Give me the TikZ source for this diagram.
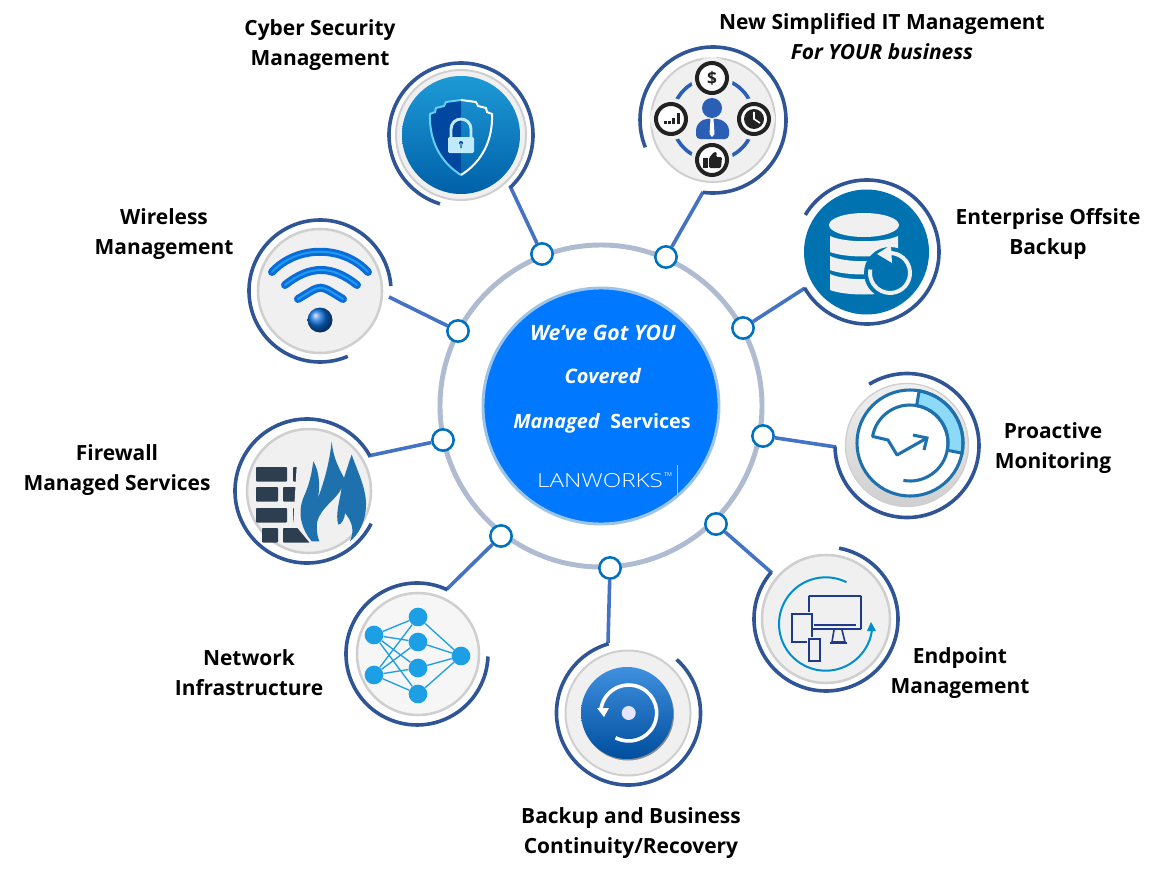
\documentclass[tikz,border=0pt]{standalone}
\usepackage{fontspec}
\setmainfont{Open Sans}
\newfontfamily\logofont{Open Sans Light}[FakeStretch=1.25]
\definecolor{arcblue}{HTML}{2F5597}
\definecolor{linkblue}{HTML}{4472C4}
\definecolor{hubblue}{HTML}{0070C0}
\definecolor{ringgrey}{HTML}{AEBBD0}
\definecolor{coreblue}{HTML}{0078FF}
\definecolor{corerim}{HTML}{9DC3E6}
\definecolor{padgrey}{HTML}{F0F0F0}
\definecolor{rimgrey}{HTML}{CFCFCF}
\definecolor{ticblue}{HTML}{1F71AE}
\definecolor{navy}{HTML}{1F3A8A}
\definecolor{netblue}{HTML}{1C9FE5}
\definecolor{brick}{HTML}{2C3E50}
\definecolor{iconink}{HTML}{222222}
\definecolor{shieldtop}{HTML}{1E9AD6}
\definecolor{shieldmid}{HTML}{0A6CB4}
\definecolor{shieldlow}{HTML}{0060A8}
\definecolor{shielddark}{HTML}{0047A0}
\definecolor{restoretop}{HTML}{3F90DE}
\definecolor{restorelow}{HTML}{004E9E}
\definecolor{driveblue}{HTML}{0072B0}
\definecolor{peopleblue}{HTML}{2B5FB5}
\definecolor{wavedeep}{HTML}{0A6CD8}
\definecolor{wavelight}{HTML}{1E9AF0}
\tikzset{
  outerarc/.style={draw=arcblue,line width=2.7pt},
  linkline/.style={draw=linkblue,line width=2.7pt},
  hub/.style={circle,draw=hubblue,fill=white,line width=1.9pt,minimum size=16pt,inner sep=0pt},
  pad/.style={draw=rimgrey,fill=padgrey,line width=1.9pt},
  caption/.style={font=\bfseries\fontsize{15.7}{22.5}\selectfont,align=center,text=black},
  corecaption/.style={text=white},
  neuron/.style={circle,fill=netblue,minimum size=14pt,inner sep=0pt},
  token/.style={draw=iconink,fill=white,line width=3pt},
}
\begin{document}
\begin{tikzpicture}[x=0.75pt,y=0.75pt,yscale=-1,xscale=1]
  \useasboundingbox (0,0) rectangle (1175,874);

  %Ring and centre
  \draw [draw=ringgrey,line width=3.7pt] (601,406) circle [radius=161];
  \node [circle,draw=corerim,fill=coreblue,line width=2.2pt,minimum size=177pt] (core) at (601,406) {};

  %Hubs on the ring
  \node [hub] (hubCyber) at (542,254) {};
  \node [hub] (hubSimple) at (666,257) {};
  \node [hub] (hubOffsite) at (743,328) {};
  \node [hub] (hubProactive) at (763,436) {};
  \node [hub] (hubEndpoint) at (716,524) {};
  \node [hub] (hubBackup) at (610,568) {};
  \node [hub] (hubNetwork) at (501,536) {};
  \node [hub] (hubFirewall) at (443,440) {};
  \node [hub] (hubWireless) at (458,331) {};

  %Free ends of the links
  \coordinate (armCyber) at (510,186);
  \coordinate (armSimple) at (703,192);
  \coordinate (armOffsite) at (805,288);
  \coordinate (armProactive) at (836,447);
  \coordinate (armEndpoint) at (772,573);
  \coordinate (armBackup) at (608,643);
  \coordinate (armNetwork) at (447,589);
  \coordinate (armFirewall) at (368,456);
  \coordinate (armWireless) at (389,297);
  \foreach \name in {Cyber,Simple,Offsite,Proactive,Endpoint,Backup,Network,Firewall,Wireless}
    \draw [linkline] (arm\name) -- (hub\name);

  %Cyber Security
  \draw [outerarc] (461,135) ++(47:72) arc [start angle=47,end angle=-253,radius=72];
  \draw [draw=rimgrey,fill=padgrey,line width=1.5pt] (461,135) circle [radius=65];
  \draw [draw=none,top color=shieldtop,middle color=shieldmid,bottom color=shieldlow] (461,135) circle [radius=59];
  \fill [shielddark] (461,100) -- (446,102) -- (444,106) -- (436,108) -- (435,112) -- (430,114) .. controls (429,140) and (440,162) .. (461,175) -- cycle;
  \draw [draw=cyan!60!white,line width=1.5pt] (461,100) -- (446,102) -- (444,106) -- (436,108) -- (435,112) -- (430,114) .. controls (429,140) and (440,162) .. (461,175);
  \draw [draw=white,line width=1.5pt] (461,100) -- (476,102) -- (478,106) -- (486,108) -- (487,112) -- (492,114) .. controls (493,140) and (482,162) .. (461,175);
  \draw [draw=cyan!25!white,line width=2.2pt] (451,138) -- (451,129) arc [start angle=180,end angle=360,radius=10] -- (471,138);
  \fill [cyan!25!white,rounded corners=1pt] (448,137) rectangle (474,153);
  \fill [shielddark] (461,143) circle [radius=2] (460.3,143) rectangle (461.7,148);

  %New Simplified IT Management
  \draw [outerarc] (713,120) ++(98:73) arc [start angle=98,end angle=-202,radius=73];
  \draw [draw=rimgrey,fill=padgrey,line width=1.5pt] (713,120) circle [radius=62];
  \draw [draw=peopleblue,line width=2.7pt] (713,119) circle [radius=41];
  \foreach \cx/\cy in {712/78,671/119,754/119,712/160} {
    \fill [padgrey] (\cx,\cy) circle [radius=21];
    \draw [token] (\cx,\cy) circle [radius=15];
  }
  \fill [peopleblue] (712,108) circle [radius=10];
  \fill [peopleblue,rounded corners=3pt] (696,139) -- (696,126) -- (703,119) -- (721,119) -- (729,126) -- (729,139) -- cycle;
  \fill [white] (710.5,119) -- (713.5,119) -- (714.5,134) -- (712,137) -- (709.5,134) -- cycle;
  \node [text=iconink,inner sep=0pt,font=\bfseries\fontsize{13}{13}\selectfont] (dollar) at (712,78) {\$};
  \foreach \bx/\bh in {664/3,668/3,672/6,677/11}
    \fill [iconink] (\bx,124) rectangle ++(3,-\bh);
  \fill [iconink] (754,119) circle [radius=10];
  \draw [draw=white,line width=1.2pt] (754,112) -- (754,119) -- (760,123);
  \fill [iconink] (703,158) rectangle (708,168);
  \fill [iconink,rounded corners=1pt] (709,158) -- (714,152) -- (717,152) -- (716,157) -- (722,157) -- (721,168) -- (709,168) -- cycle;

  %Enterprise Offsite Backup
  \draw [outerarc] (867,252) ++(-210:72) arc [start angle=-210,end angle=-509,radius=72];
  \fill [driveblue] (866.5,252) circle [radius=62.5];
  \foreach \ya/\yb in {236/252,256/270,274/290}
    \fill [padgrey] (830,\ya) .. controls (845,\ya+7) and (883,\ya+7) .. (898,\ya) -- (898,\yb) .. controls (883,\yb+6) and (845,\yb+6) .. (830,\yb) -- cycle;
  \fill [padgrey] (864,225) circle [x radius=35,y radius=12];
  \fill [driveblue] (890,273) circle [radius=26];
  \draw [draw=padgrey,line width=3pt] (890,273) ++(-95:20) arc [start angle=-95,end angle=190,radius=20];
  \fill [padgrey] (891,245) -- (877,254) -- (892,263) -- cycle;

  %Proactive Monitoring
  \draw [outerarc] (907,445.5) ++(-181:72) arc [start angle=-181,end angle=-481.7,radius=72];
  \draw [draw=rimgrey,top color=padgrey,bottom color=rimgrey,line width=1pt] (907,445) circle [radius=61.5];
  \fill [white] (910,443) circle [radius=53];
  \fill [draw=ticblue,fill=cyan!45!white,line width=2.3pt] (910,443) ++(-80:53) arc [start angle=-80,end angle=11,radius=53] -- ++(191:15) arc [start angle=11,end angle=-80,radius=38] -- cycle;
  \draw [draw=ticblue,line width=2.3pt] (910,443) circle [radius=53];
  \draw [draw=ticblue,line width=2.3pt,line join=round] (910,443) ++(100:38) arc [start angle=100,end angle=-170,radius=38] -- (888,440) -- (897,455) -- (927,438);
  \draw [draw=ticblue,line width=2.3pt] (913,435) -- (927,438) -- (924,450);

  %Endpoint Management
  \draw [outerarc] (826,619) ++(-139.6:72) arc [start angle=-139.6,end angle=-439.5,radius=72];
  \draw [pad] (826,619) circle [radius=64];
  \draw [draw=hubblue!80!cyan,line width=1.5pt] (825.7,624) ++(-63.6:46.7) arc [start angle=-63.6,end angle=-352.4,radius=46.7];
  \fill [hubblue!80!cyan] (871,622) -- (867,631) -- (876,631) -- cycle;
  \draw [draw=navy,line width=1.4pt,rounded corners=0.5pt] (809,596) rectangle (861,629);
  \draw [draw=navy,line width=1pt] (814,625) -- (856,625);
  \draw [draw=navy,line width=1.2pt] (834,630) -- (832,642) -- (845,642) -- (842,630);
  \draw [draw=navy,line width=1.6pt] (830,643) -- (847,643);
  \fill [padgrey] (790,612) rectangle (813,643);
  \draw [draw=navy,line width=1.4pt] (792,614) rectangle (812,642);
  \fill [padgrey] (807,637) rectangle (822,663);
  \draw [draw=navy,line width=1.4pt] (809,639) rectangle (820,661);

  %Backup and Business Continuity
  \draw [outerarc] (628.5,713) ++(-106:72) arc [start angle=-106,end angle=-408,radius=72];
  \draw [draw=rimgrey,fill=padgrey,line width=1.5pt] (628,713) circle [radius=62.5];
  \fill [black!45] (628,714.5) circle [radius=46];
  \draw [draw=none,top color=restoretop,bottom color=restorelow] (627,713) circle [radius=46];
  \fill [white!90!blue] (628.7,713) circle [radius=7];
  \draw [draw=white,line width=2.7pt] (628.7,713) ++(118:28) arc [start angle=118,end angle=-175,radius=28];
  \fill [white] (597,708) -- (609,708) -- (604,717) -- cycle;

  %Network Infrastructure
  \draw [outerarc] (417,654) ++(-64.5:71) arc [start angle=-64.5,end angle=-358,radius=71];
  \draw [pad,fill=padgrey!60!white] (418,654) circle [radius=61];
  \node [neuron] (inA) at (374,635) {};
  \node [neuron] (inB) at (374,675) {};
  \node [neuron] (midA) at (418,617) {};
  \node [neuron] (midB) at (418,642) {};
  \node [neuron] (midC) at (418,668) {};
  \node [neuron] (midD) at (418,694) {};
  \node [neuron] (outA) at (461,656) {};
  \foreach \m in {midA,midB,midC,midD} {
    \draw [draw=netblue,line width=1pt] (inA) -- (\m);
    \draw [draw=netblue,line width=1pt] (inB) -- (\m);
    \draw [draw=netblue,line width=1pt] (\m) -- (outA);
  }

  %Firewall
  \draw [outerarc] (307,491) ++(-29:72) arc [start angle=-29,end angle=-333,radius=72];
  \draw [pad] (309,491) circle [radius=62];
  \foreach \xa/\xb/\ya in {256/287/467,293/307/467,256/278/487,283/297/487,256/287/508,293/298/508,262/278/528,283/310/528}
    \fill [brick,rounded corners=0.7pt] (\xa,\ya) rectangle (\xb,\ya+14.5);
  \begin{scope}[shift={(230,213)},scale=0.3333]
    \fill [padgrey] (200,760) -- (245,760) -- (245,990) -- (240,990) -- (190,930) -- cycle;
    \fill [ticblue] (245,985) .. controls (215,950) and (200,900) .. (222,850) .. controls (240,810) and (245,780) .. (250,745) .. controls (265,770) and (272,810) .. (264,855) .. controls (285,800) and (300,740) .. (305,685) .. controls (310,740) and (330,770) .. (342,795) .. controls (350,770) and (358,745) .. (365,725) .. controls (385,780) and (410,830) .. (408,880) .. controls (406,930) and (385,965) .. (360,985) .. controls (375,950) and (365,925) .. (345,900) .. controls (345,915) and (335,935) .. (325,935) .. controls (315,905) and (330,860) .. (335,825) .. controls (320,860) and (275,880) .. (262,925) .. controls (258,950) and (262,970) .. (268,985) -- cycle;
  \end{scope}

  %Wireless
  \draw [outerarc] (320,291) ++(-4:71) arc [start angle=-4,end angle=-293,radius=71];
  \draw [pad] (320,291) circle [radius=62];
  \foreach \xa/\xb/\ya/\yc in {272/368/272/245,285/357/285/265,298/343/299/284} {
    \draw [draw=wavedeep,line width=6pt,line cap=round] (\xa,\ya) .. controls (\xa+25,\yc) and (\xb-25,\yc) .. (\xb,\ya);
    \draw [draw=wavelight,line width=1.5pt,line cap=round] (\xa,\ya) .. controls (\xa+25,\yc) and (\xb-25,\yc) .. (\xb,\ya);
  }
  \shade [ball color=wavedeep] (320,320) circle [radius=12.5];

  % Text Node
  \node [caption] (capCyber) at (320,45) {Cyber Security\\Management};
  \node [caption] (capSimple) at (882,37) {New Simplified IT Management\\\textit{For YOUR business}};
  \node [caption] (capOffsite) at (1048,234) {Enterprise Offsite\\Backup};
  \node [caption] (capProactive) at (1053,448) {Proactive\\Monitoring};
  \node [caption] (capEndpoint) at (960,673) {Endpoint\\Management};
  \node [caption] (capBackup) at (631,833) {Backup and Business\\Continuity/Recovery};
  \node [caption] (capNetwork) at (249,673) {Network\\Infrastructure};
  \node [caption] (capFirewall) at (117,470) {Firewall\\Managed Services};
  \node [caption] (capWireless) at (164,234) {Wireless\\Management};
  \node [corecaption,font=\bfseries\fontsize{15.9}{22}\selectfont] (coreA) at (603,333) {\textit{We’ve Got YOU}};
  \node [corecaption,font=\bfseries\fontsize{15}{22}\selectfont] (coreB) at (603,376) {\textit{Covered}};
  \node [corecaption,font=\bfseries\fontsize{14.8}{22}\selectfont] (coreC) at (602,423) {\textit{Managed}\ \ Services};
  \node [text=white,inner sep=0pt,font=\logofont\fontsize{14.5}{15}\selectfont] (logo) at (600,481) {LANWORKS};
  \node [text=white,inner sep=0pt,font=\fontsize{4}{5}\selectfont,right=0pt] (logoTm) at (664,475) {TM};
  \draw [draw=white!60!coreblue,line width=0.3pt] (677,465) -- (677,495);
\end{tikzpicture}
\end{document}
